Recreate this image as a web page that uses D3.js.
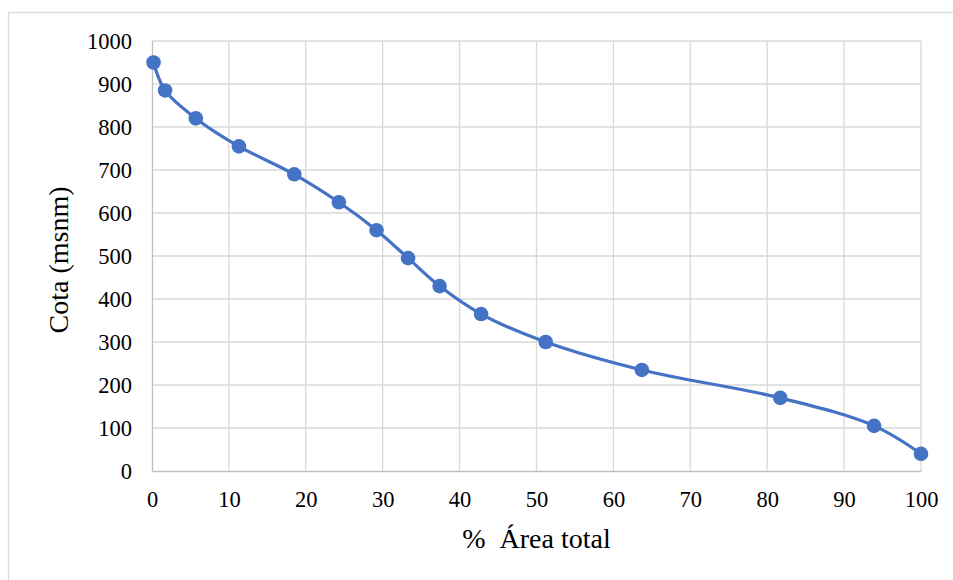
<!DOCTYPE html>
<html>
<head>
<meta charset="utf-8">
<script src="https://cdn.jsdelivr.net/npm/d3@7/dist/d3.min.js"></script>
<style>
  html, body { margin: 0; padding: 0; background: #fff; }
  svg { display: block; }
</style>
</head>
<body>
<svg id="chart" width="953" height="580"></svg>
<script>
// Hypsometric curve: elevation (m a.s.l.) vs. cumulative % of total area
const areaPct = [0.2, 1.7, 5.7, 11.3, 18.5, 24.3, 29.2, 33.3, 37.4, 42.8, 51.2, 63.7, 81.7, 93.9, 100];
const cota    = [950, 885, 820, 755, 690, 625, 560, 495, 430, 365, 300, 235, 170, 105, 40];
const xTicks = [0, 10, 20, 30, 40, 50, 60, 70, 80, 90, 100];
const yTicks = [0, 100, 200, 300, 400, 500, 600, 700, 800, 900, 1000];
const xTitle = "%\u00a0 Área total";
const yTitle = "Cota (msnm)";

const FONT = "'Times New Roman', 'Liberation Serif', 'DejaVu Serif', serif";

const svg = d3.select("#chart");
const plot = { left: 152, right: 921, top: 41, bottom: 471 };

const x = d3.scaleLinear().domain([0, 100]).range([plot.left, plot.right]);
const y = d3.scaleLinear().domain([0, 1000]).range([plot.bottom, plot.top]);

// chart frame
svg.append("rect")
  .attr("x", 8.5).attr("y", 12.5)
  .attr("width", 1000).attr("height", 1000)
  .attr("fill", "#fff").attr("stroke", "#D9D9D9").attr("stroke-width", 1.3);

// gridlines
const grid = svg.append("g").attr("stroke", "#D9D9D9").attr("stroke-width", 1.3);
grid.selectAll(".gx").data(xTicks.filter(d => d > 0)).join("line")
  .attr("x1", d => x(d)).attr("x2", d => x(d))
  .attr("y1", plot.top).attr("y2", plot.bottom);
grid.selectAll(".gy").data(yTicks.filter(d => d > 0)).join("line")
  .attr("x1", plot.left).attr("x2", plot.right)
  .attr("y1", d => y(d)).attr("y2", d => y(d));

// axes
const xAxis = svg.append("g")
  .attr("transform", `translate(0,${plot.bottom})`)
  .call(d3.axisBottom(x).tickValues(xTicks).tickSize(0).tickPadding(20).tickFormat(d3.format("d")));
const yAxis = svg.append("g")
  .attr("transform", `translate(${plot.left},0)`)
  .call(d3.axisLeft(y).tickValues(yTicks).tickSize(0).tickPadding(20).tickFormat(d3.format("d")));
[xAxis, yAxis].forEach(g => {
  g.attr("font-family", FONT).attr("font-size", 22.5);
  g.select(".domain").attr("stroke", "#BFBFBF").attr("stroke-width", 1.3);
  g.selectAll(".tick text").attr("fill", "#000").attr("font-family", FONT);
});

// axis titles
svg.append("text")
  .attr("x", (plot.left + plot.right) / 2).attr("y", 548)
  .attr("text-anchor", "middle").attr("font-size", 28).attr("font-family", FONT)
  .text(xTitle);
svg.append("text")
  .attr("transform", `translate(68,${(plot.top + plot.bottom) / 2 + 4}) rotate(-90)`)
  .attr("text-anchor", "middle").attr("font-size", 28).attr("font-family", FONT)
  .text(yTitle);

// series
const pts = areaPct.map((a, i) => [a, cota[i]]);
const line = d3.line().x(d => x(d[0])).y(d => y(d[1])).curve(d3.curveCatmullRom.alpha(0.5));
svg.append("path").datum(pts)
  .attr("d", line).attr("fill", "none")
  .attr("stroke", "#4472C4").attr("stroke-width", 3.2).attr("stroke-linejoin", "round");
svg.selectAll(".pt").data(pts).join("circle")
  .attr("cx", d => x(d[0])).attr("cy", d => y(d[1]))
  .attr("r", 7.3).attr("fill", "#4472C4");
</script>
</body>
</html>
